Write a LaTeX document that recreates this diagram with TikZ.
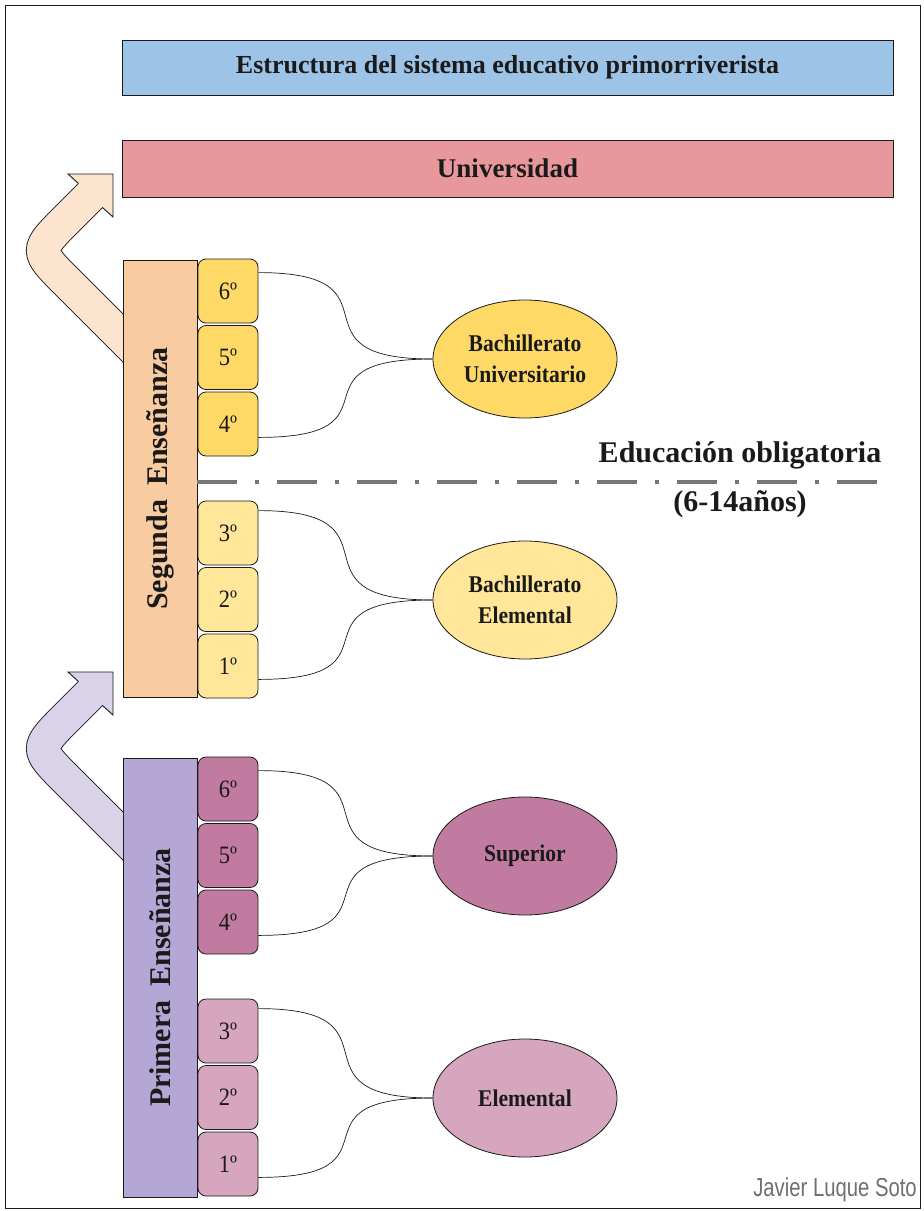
\documentclass[tikz,border=0pt]{standalone}
\usepackage{fontspec}
\setmainfont{Liberation Serif}
\newfontfamily\condserif{Liberation Serif}[FakeStretch=0.9]
\newfontfamily\sigfont{Liberation Sans}[FakeStretch=0.78]
\usetikzlibrary{shapes.geometric,calc}
\definecolor{titleblue}{HTML}{9DC3E6}
\definecolor{unipink}{HTML}{E8979B}
\definecolor{segpeach}{HTML}{F8CBA0}
\definecolor{arrpeach}{HTML}{FCE4CF}
\definecolor{ydark}{HTML}{FFD966}
\definecolor{ylight}{HTML}{FFE699}
\definecolor{primlav}{HTML}{B4A7D6}
\definecolor{arrlav}{HTML}{D9D2E9}
\definecolor{pdark}{HTML}{C27BA0}
\definecolor{plight}{HTML}{D5A6BD}
\definecolor{divgray}{HTML}{777777}
\definecolor{siggray}{HTML}{6F6F6F}
\definecolor{ink}{HTML}{1A1A1A}
\begin{document}
\begin{tikzpicture}[x=1pt,y=-1pt,
  bigbox/.style={draw=ink, line width=0.9pt, inner sep=0pt},
  yearbox/.style={draw=ink, line width=0.8pt, rounded corners=8pt, minimum width=60pt, minimum height=64pt, inner sep=0pt, text=ink, font=\condserif\fontsize{25}{27}\selectfont},
  oval/.style={ellipse, draw=ink, line width=0.8pt, minimum width=184pt, minimum height=118pt, inner sep=0pt, align=center, text=ink, font=\condserif\bfseries\fontsize{24}{31}\selectfont},
  link/.style={line width=0.7pt, draw=ink},
  band/.style={line width=0.9pt, draw=ink, double distance=33pt},
  headline/.style={line width=0.9pt, draw=ink, line join=miter},
  vlabel/.style={rotate=90, text=ink, font=\bfseries\fontsize{30}{32}\selectfont},
  blabel/.style={text=ink, font=\bfseries\fontsize{30}{32}\selectfont}
]
\useasboundingbox (0,0) rectangle (924,1211);
\fill[white] (0,0) rectangle (924,1211);
\coordinate (fr1) at (5,5);
\coordinate (fr2) at (920,1208);
\draw[line width=1pt, draw=ink] (fr1) rectangle (fr2);

% bent arrows
\foreach \dy/\col in {0/arrpeach,498/arrlav} {
  \begin{scope}[shift={(0,\dy)}]
    \coordinate (as) at (142,357);
    \coordinate (ab1) at (67,282);
    \coordinate (ac) at (35.5,250.5);
    \coordinate (ab2) at (67,219);
    \coordinate (ae) at (94,192);
    \coordinate (an1) at (78.5,183.5);
    \coordinate (ah1) at (68,174);
    \coordinate (at) at (113,174);
    \coordinate (ah2) at (113,217);
    \coordinate (an2) at (102.5,207.5);
    \draw[band, double=\col] (as) -- (ab1) .. controls (ac) .. (ab2) -- (ae);
    \fill[\col] (ah1) -- (at) -- (ah2) -- cycle;
    \draw[headline] (an1) -- (ah1) -- (at) -- (ah2) -- (an2);
  \end{scope}
}

% top boxes
\node[bigbox, fill=titleblue, minimum width=771pt, minimum height=55pt, text=ink, font=\bfseries\fontsize{26}{28}\selectfont] (title) at (507.5,67.5) {Estructura del sistema educativo primorriverista};
\node[bigbox, fill=unipink, minimum width=771pt, minimum height=57pt, text=ink, font=\bfseries\fontsize{27}{29}\selectfont] (uni) at (507.5,168.5) {Universidad};

% Segunda Ensenanza
\node[bigbox, fill=segpeach, minimum width=74pt, minimum height=437pt] (seg) at (160,478.5) {};
\node[vlabel] (segt) at (seg.center) {Segunda\hspace{14pt}Enseñanza};
\foreach \n/\y/\c in {6/291/ydark,5/357.5/ydark,4/424/ydark,3/533/ylight,2/599.5/ylight,1/666/ylight} {
  \node[yearbox, fill=\c] (s\n) at (228,\y) {\n º};
}
\node[oval, fill=ydark] (bu) at (525,359) {Bachillerato\\Universitario};
\node[oval, fill=ylight] (be) at (525,600) {Bachillerato\\Elemental};
\draw[link] ($(s6.north east)+(0,14)$) .. controls +(150,0) and +(-150,0) .. (bu.west);
\draw[link] ($(s4.south east)+(0,-19)$) .. controls +(150,0) and +(-150,0) .. (bu.west);
\draw[link] ($(s3.north east)+(0,10)$) .. controls +(150,0) and +(-150,0) .. (be.west);
\draw[link] ($(s1.south east)+(0,-19)$) .. controls +(150,0) and +(-150,0) .. (be.west);

% Primera Ensenanza
\node[bigbox, fill=primlav, minimum width=74pt, minimum height=439pt] (prim) at (160,977.5) {};
\node[vlabel] (primt) at (prim.center) {Primera\hspace{14pt}Enseñanza};
\foreach \n/\y/\c in {6/789/pdark,5/855.5/pdark,4/922/pdark,3/1031/plight,2/1097.5/plight,1/1164/plight} {
  \node[yearbox, fill=\c] (p\n) at (228,\y) {\n º};
}
\node[oval, fill=pdark] (sup) at (525,856) {Superior};
\node[oval, fill=plight] (ele) at (525,1098) {Elemental};
\draw[link] ($(p6.north east)+(0,14)$) .. controls +(150,0) and +(-150,0) .. (sup.west);
\draw[link] ($(p4.south east)+(0,-19)$) .. controls +(150,0) and +(-150,0) .. (sup.west);
\draw[link] ($(p3.north east)+(0,10)$) .. controls +(150,0) and +(-150,0) .. (ele.west);
\draw[link] ($(p1.south east)+(0,-19)$) .. controls +(150,0) and +(-150,0) .. (ele.west);

% compulsory education divider
\coordinate (dl) at (197,482);
\coordinate (dr) at (893,482);
\draw[divgray, line width=4pt, dash pattern=on 40pt off 18pt on 4pt off 18pt] (dl) -- (dr);
\node[blabel, anchor=base] (obl) at (740,462) {Educación obligatoria};
\node[blabel, anchor=base] (edad) at (740,511) {(6-14años)};

% signature
\node[anchor=base east, inner sep=0pt, text=siggray, font=\sigfont\fontsize{26}{28}\selectfont] (sig) at (917,1196) {Javier Luque Soto};
\end{tikzpicture}
\end{document}
